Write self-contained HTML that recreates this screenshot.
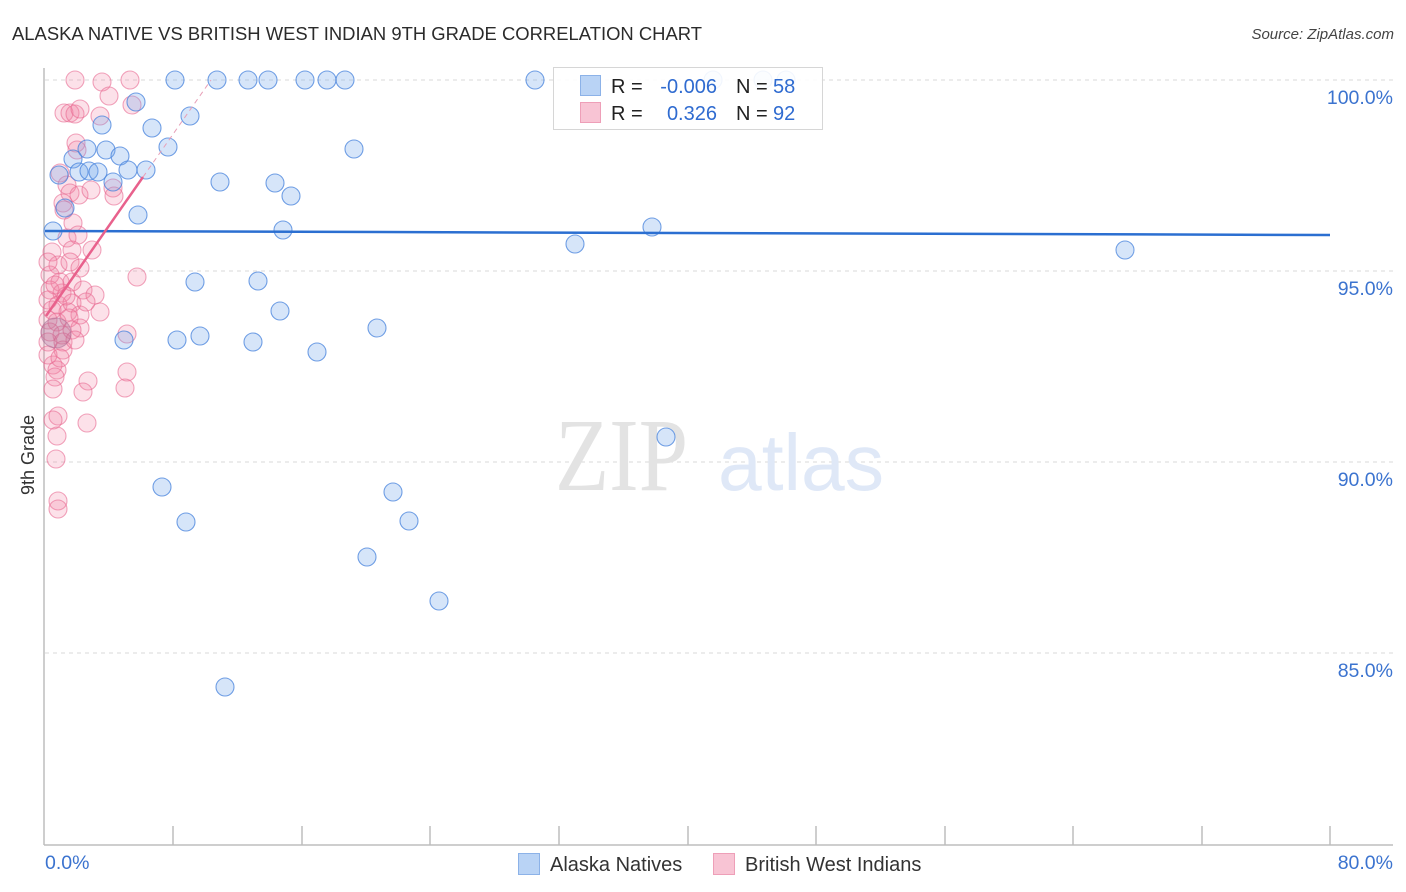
<!DOCTYPE html>
<html><head><meta charset="utf-8"><style>
html,body{margin:0;padding:0;background:#fff;}
svg{display:block;font-family:"Liberation Sans",sans-serif;}
</style></head><body>
<svg width="1406" height="892" viewBox="0 0 1406 892" xmlns="http://www.w3.org/2000/svg">
<text x="12" y="40" font-size="18" fill="#2b2b2b" textLength="690" lengthAdjust="spacingAndGlyphs">ALASKA NATIVE VS BRITISH WEST INDIAN 9TH GRADE CORRELATION CHART</text>
<text x="1394" y="39" font-size="15" fill="#444" font-style="italic" text-anchor="end">Source: ZipAtlas.com</text>

<g stroke="#d8d8d8" stroke-width="1" stroke-dasharray="4,4">
<line x1="45" y1="80" x2="1393" y2="80"/>
<line x1="45" y1="271" x2="1393" y2="271"/>
<line x1="45" y1="462" x2="1393" y2="462"/>
<line x1="45" y1="653" x2="1393" y2="653"/>
</g>
<g stroke="#bdbdbd" stroke-width="1.5">
<line x1="44" y1="68" x2="44" y2="845"/>
<line x1="44" y1="845" x2="1393" y2="845"/>
<line x1="173" y1="826" x2="173" y2="845"/><line x1="302" y1="826" x2="302" y2="845"/>
<line x1="430" y1="826" x2="430" y2="845"/><line x1="559" y1="826" x2="559" y2="845"/>
<line x1="688" y1="826" x2="688" y2="845"/><line x1="816" y1="826" x2="816" y2="845"/>
<line x1="945" y1="826" x2="945" y2="845"/><line x1="1073" y1="826" x2="1073" y2="845"/>
<line x1="1202" y1="826" x2="1202" y2="845"/><line x1="1330" y1="826" x2="1330" y2="845"/>
</g>

<text x="555" y="490" font-family="Liberation Serif,serif" font-size="104" fill="#e3e3e3" textLength="133" lengthAdjust="spacingAndGlyphs">ZIP</text>
<text x="718" y="490" font-size="80" fill="#dfe8f7" textLength="166" lengthAdjust="spacingAndGlyphs">atlas</text>

<g fill="rgba(242,130,165,0.24)" stroke="rgba(232,105,145,0.6)" stroke-width="1.1">
<circle cx="75" cy="80" r="9"/><circle cx="102" cy="82" r="9"/><circle cx="130" cy="80" r="9"/>
<circle cx="109" cy="96" r="9"/><circle cx="132" cy="105" r="9"/><circle cx="64" cy="113" r="9"/>
<circle cx="70" cy="113" r="9"/><circle cx="75" cy="114" r="9"/><circle cx="80" cy="109" r="9"/>
<circle cx="100" cy="116" r="9"/><circle cx="76" cy="143" r="9"/><circle cx="77" cy="150" r="9"/>
<circle cx="60" cy="173" r="9"/><circle cx="67" cy="185" r="9"/><circle cx="70" cy="193" r="9"/>
<circle cx="63" cy="203" r="9"/><circle cx="79" cy="195" r="9"/><circle cx="91" cy="190" r="9"/>
<circle cx="113" cy="188" r="9"/><circle cx="114" cy="196" r="9"/><circle cx="73" cy="223" r="9"/>
<circle cx="67" cy="238" r="9"/><circle cx="78" cy="235" r="9"/><circle cx="92" cy="250" r="9"/>
<circle cx="52" cy="252" r="9"/><circle cx="72" cy="250" r="9"/><circle cx="58" cy="265" r="9"/>
<circle cx="70" cy="262" r="9"/><circle cx="80" cy="268" r="9"/><circle cx="50" cy="275" r="9"/>
<circle cx="60" cy="282" r="9"/><circle cx="72" cy="282" r="9"/><circle cx="137" cy="277" r="9"/>
<circle cx="50" cy="290" r="9"/><circle cx="62" cy="293" r="9"/><circle cx="83" cy="290" r="9"/>
<circle cx="95" cy="295" r="9"/><circle cx="48" cy="300" r="9"/><circle cx="58" cy="305" r="9"/>
<circle cx="72" cy="303" r="9"/><circle cx="68" cy="312" r="9"/><circle cx="80" cy="315" r="9"/>
<circle cx="100" cy="312" r="9"/><circle cx="48" cy="320" r="9"/><circle cx="57" cy="322" r="9"/>
<circle cx="69" cy="318" r="9"/><circle cx="80" cy="328" r="9"/><circle cx="50" cy="332" r="9"/>
<circle cx="62" cy="335" r="9"/><circle cx="72" cy="330" r="9"/><circle cx="48" cy="342" r="9"/>
<circle cx="63" cy="342" r="9"/><circle cx="63" cy="350" r="9"/><circle cx="53" cy="365" r="9"/>
<circle cx="57" cy="370" r="9"/><circle cx="55" cy="377" r="9"/><circle cx="127" cy="334" r="9"/>
<circle cx="127" cy="372" r="9"/><circle cx="88" cy="381" r="9"/><circle cx="125" cy="388" r="9"/>
<circle cx="83" cy="392" r="9"/><circle cx="53" cy="389" r="9"/><circle cx="58" cy="416" r="9"/>
<circle cx="53" cy="420" r="9"/><circle cx="87" cy="423" r="9"/><circle cx="57" cy="436" r="9"/>
<circle cx="56" cy="459" r="9"/><circle cx="58" cy="501" r="9"/><circle cx="58" cy="509" r="9"/>
<circle cx="48" cy="262" r="9"/><circle cx="52" cy="310" r="9"/><circle cx="48" cy="355" r="9"/>
<circle cx="66" cy="296" r="9"/><circle cx="86" cy="302" r="9"/><circle cx="55" cy="285" r="9"/>
<circle cx="75" cy="340" r="9"/><circle cx="60" cy="358" r="9"/><circle cx="64" cy="210" r="9"/>
</g>
<circle cx="56" cy="333" r="15" fill="rgba(160,110,150,0.32)" stroke="rgba(170,110,150,0.55)" stroke-width="1.1"/>

<g fill="rgba(120,170,235,0.3)" stroke="rgba(70,130,220,0.75)" stroke-width="1.1">
<circle cx="175" cy="80" r="9"/><circle cx="217" cy="80" r="9"/><circle cx="248" cy="80" r="9"/>
<circle cx="268" cy="80" r="9"/><circle cx="305" cy="80" r="9"/><circle cx="327" cy="80" r="9"/>
<circle cx="345" cy="80" r="9"/><circle cx="535" cy="80" r="9"/><circle cx="713" cy="80" r="9"/>
<circle cx="763" cy="80" r="9"/><circle cx="786" cy="80" r="9"/>
<circle cx="136" cy="102" r="9"/><circle cx="190" cy="116" r="9"/><circle cx="102" cy="125" r="9"/>
<circle cx="152" cy="128" r="9"/><circle cx="168" cy="147" r="9"/><circle cx="87" cy="149" r="9"/>
<circle cx="106" cy="150" r="9"/><circle cx="120" cy="156" r="9"/><circle cx="73" cy="159" r="9"/>
<circle cx="354" cy="149" r="9"/><circle cx="59" cy="175" r="9"/><circle cx="79" cy="172" r="9"/>
<circle cx="89" cy="171" r="9"/><circle cx="98" cy="172" r="9"/><circle cx="128" cy="170" r="9"/>
<circle cx="146" cy="170" r="9"/><circle cx="113" cy="182" r="9"/><circle cx="220" cy="182" r="9"/>
<circle cx="275" cy="183" r="9"/><circle cx="291" cy="196" r="9"/><circle cx="65" cy="208" r="9"/>
<circle cx="138" cy="215" r="9"/><circle cx="53" cy="231" r="9"/><circle cx="283" cy="230" r="9"/>
<circle cx="652" cy="227" r="9"/><circle cx="575" cy="244" r="9"/><circle cx="1125" cy="250" r="9"/>
<circle cx="195" cy="282" r="9"/><circle cx="258" cy="281" r="9"/><circle cx="280" cy="311" r="9"/>
<circle cx="377" cy="328" r="9"/><circle cx="124" cy="340" r="9"/><circle cx="177" cy="340" r="9"/>
<circle cx="200" cy="336" r="9"/><circle cx="253" cy="342" r="9"/><circle cx="317" cy="352" r="9"/>
<circle cx="666" cy="437" r="9"/><circle cx="162" cy="487" r="9"/><circle cx="186" cy="522" r="9"/>
<circle cx="393" cy="492" r="9"/><circle cx="409" cy="521" r="9"/><circle cx="367" cy="557" r="9"/>
<circle cx="439" cy="601" r="9"/><circle cx="225" cy="687" r="9"/>
</g>

<line x1="45" y1="231" x2="1330" y2="235" stroke="#2b6fd1" stroke-width="2.5"/>
<line x1="46" y1="316" x2="143" y2="177" stroke="#e8618c" stroke-width="2.5"/>
<line x1="143" y1="177" x2="211" y2="80" stroke="#e8a0b8" stroke-width="1" stroke-dasharray="5,4"/>

<rect x="553.5" y="67.5" width="269" height="62" fill="rgba(255,255,255,0.9)" stroke="#d6d6d6" stroke-width="1"/>
<rect x="580.5" y="75.5" width="20" height="20" fill="#b9d3f5" stroke="#8cb2e8"/>
<rect x="580.5" y="102.5" width="20" height="20" fill="#f8c4d4" stroke="#ee9fb8"/>
<g font-size="20">
<text x="611" y="93" fill="#222">R =</text>
<text x="717" y="93" fill="#2f6bd0" text-anchor="end">-0.006</text>
<text x="736" y="93" fill="#222">N =</text>
<text x="773" y="93" fill="#2f6bd0">58</text>
<text x="611" y="120" fill="#222">R =</text>
<text x="717" y="120" fill="#2f6bd0" text-anchor="end">0.326</text>
<text x="736" y="120" fill="#222">N =</text>
<text x="773" y="120" fill="#2f6bd0">92</text>
</g>

<g font-size="19.5" fill="#3b73cf" text-anchor="end">
<text x="1393" y="104">100.0%</text>
<text x="1393" y="295">95.0%</text>
<text x="1393" y="486">90.0%</text>
<text x="1393" y="677">85.0%</text>
</g>
<text x="45" y="869" font-size="19.5" fill="#3b73cf">0.0%</text>
<text x="1393" y="869" font-size="19.5" fill="#3b73cf" text-anchor="end">80.0%</text>

<text transform="translate(34,455) rotate(-90)" font-size="18" fill="#333" text-anchor="middle">9th Grade</text>

<rect x="518.5" y="853.5" width="21" height="21" fill="#b9d3f5" stroke="#8cb2e8"/>
<text x="550" y="871" font-size="20" fill="#333">Alaska Natives</text>
<rect x="713.5" y="853.5" width="21" height="21" fill="#f8c4d4" stroke="#ee9fb8"/>
<text x="745" y="871" font-size="20" fill="#333">British West Indians</text>
</svg>
</body></html>
